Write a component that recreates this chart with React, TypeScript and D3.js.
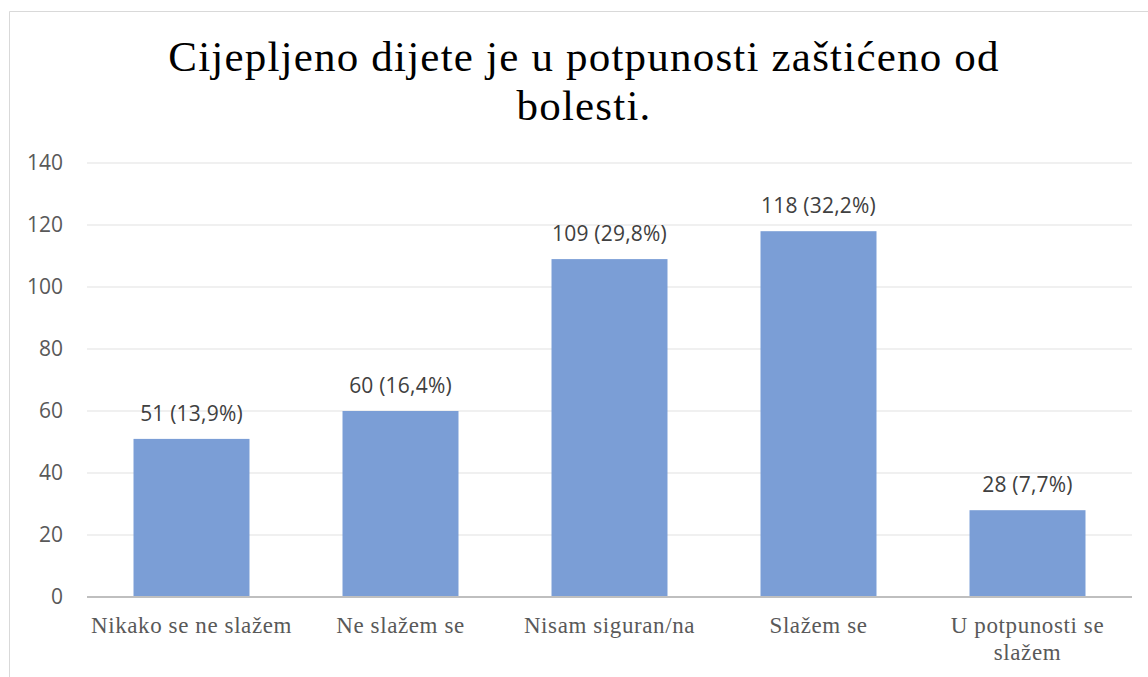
import React from "react";
import * as d3 from "d3";

const categories: string[][] = [
  ["Nikako se ne slažem"],
  ["Ne slažem se"],
  ["Nisam siguran/na"],
  ["Slažem se"],
  ["U potpunosti se", "slažem"],
];
const values: number[] = [51, 60, 109, 118, 28];
const valueLabels: string[] = ["51 (13,9%)", "60 (16,4%)", "109 (29,8%)", "118 (32,2%)", "28 (7,7%)"];
const yTicks: number[] = [0, 20, 40, 60, 80, 100, 120, 140];
const titleLines: string[] = ["Cijepljeno dijete je u potpunosti zaštićeno od", "bolesti."];

const W = 1148;
const H = 677;
const plot = { left: 87, right: 1132, top: 163, bottom: 597 };

export default function App() {
  const x = d3
    .scaleBand<number>()
    .domain(d3.range(categories.length))
    .range([plot.left, plot.right])
    .paddingInner(0.445)
    .paddingOuter(0.2225);
  const y = d3.scaleLinear().domain([0, 140]).range([plot.bottom, plot.top]);
  const sans = "Open Sans, Noto Sans, sans-serif";
  const serif = "Liberation Serif, Times New Roman, serif";

  return (
    <svg
      width={W}
      height={H}
      style={{ position: "absolute", left: 0, top: 0, background: "#fff" }}
    >
      <rect x={0} y={0} width={W} height={H} fill="#fff" />
      <line x1={9.5} y1={11.5} x2={W} y2={11.5} stroke="#d9d9d9" strokeWidth={1} />
      <line x1={9.5} y1={11.5} x2={9.5} y2={H} stroke="#d9d9d9" strokeWidth={1} />

      {titleLines.map((t, i) => (
        <text
          key={i}
          x={584}
          y={71 + i * 49}
          textAnchor="middle"
          fontSize={43}
          fill="#000"
          style={{ fontFamily: serif, letterSpacing: "1.2px" }}
        >
          {t}
        </text>
      ))}

      {yTicks.map((t) => (
        <g key={t}>
          {t !== 0 && (
            <line
              x1={plot.left}
              x2={plot.right}
              y1={y(t)}
              y2={y(t)}
              stroke="#ebebeb"
              strokeWidth={1.5}
            />
          )}
          <text
            x={63}
            y={y(t)}
            dy="0.35em"
            textAnchor="end"
            fontSize={21}
            fill="#595959"
            style={{ fontFamily: sans }}
          >
            {t}
          </text>
        </g>
      ))}

      {values.map((v, i) => (
        <g key={i}>
          <rect
            x={x(i)!}
            y={y(v)}
            width={x.bandwidth()}
            height={y(0) - y(v)}
            fill="#7b9ed6"
          />
          <text
            x={x(i)! + x.bandwidth() / 2}
            y={y(v) - 18}
            textAnchor="middle"
            fontSize={21}
            fill="#404040"
            style={{ fontFamily: sans, letterSpacing: "0.2px" }}
          >
            {valueLabels[i]}
          </text>
        </g>
      ))}

      <line
        x1={plot.left}
        x2={plot.right}
        y1={plot.bottom}
        y2={plot.bottom}
        stroke="#bfbfbf"
        strokeWidth={2}
      />

      {categories.map((lines, i) => (
        <text
          key={i}
          x={x(i)! + x.bandwidth() / 2}
          y={633}
          textAnchor="middle"
          fontSize={23}
          fill="#595959"
          style={{ fontFamily: serif, letterSpacing: "0.6px" }}
        >
          {lines.map((l, j) => (
            <tspan key={j} x={x(i)! + x.bandwidth() / 2} dy={j === 0 ? 0 : 27}>
              {l}
            </tspan>
          ))}
        </text>
      ))}
    </svg>
  );
}
